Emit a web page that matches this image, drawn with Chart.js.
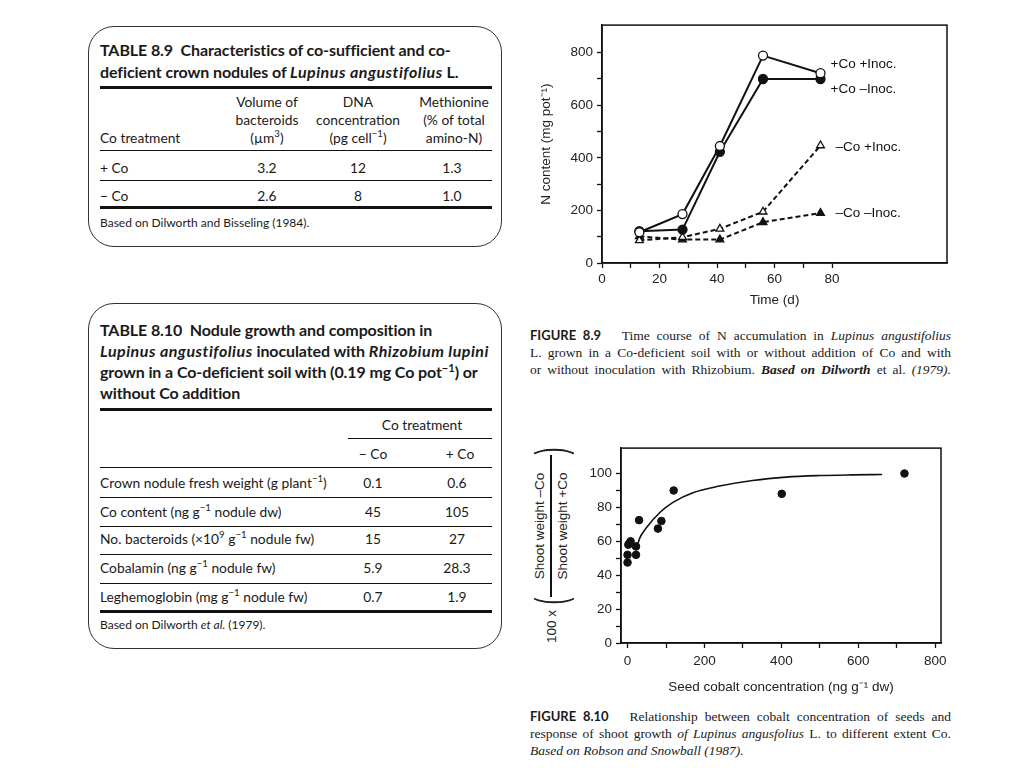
<!DOCTYPE html>
<html>
<head>
<meta charset="utf-8">
<script src="https://cdn.jsdelivr.net/npm/chart.js@4.4.0/dist/chart.umd.min.js"></script>
<style>
  html, body { margin: 0; padding: 0; background: #fff; }
  body { width: 1024px; height: 768px; position: relative; overflow: hidden; color: #1a1a1a; }
  .box { position: absolute; border: 1.5px solid #333; border-radius: 26px; }
  .tt { position: absolute; font-family: Lato, "Open Sans", sans-serif; white-space: nowrap; }
  .ttl { font-weight: bold; font-size: 16px; line-height: 21.5px; letter-spacing: -0.1px; }
  .ttl i { letter-spacing: 0.5px; }
  .cell { font-size: 13.8px; line-height: 18px; }
  .c { text-align: center; }
  .rule { position: absolute; background: #111; height: 1px; }
  .thick { height: 3px; }
  .note { font-size: 12px; line-height: 14px; }
  sup { font-size: 70%; line-height: 0; }
  .cap { position: absolute; left: 530px; width: 421px; font-family: "Liberation Serif", "DejaVu Serif", serif; font-size: 13.5px; line-height: 17px; }
  .cap div { white-space: nowrap; text-align: justify; text-align-last: justify; }
  .cap b.fig { font-family: Lato, sans-serif; font-size: 13px; }
  canvas { position: absolute; }
  .yt2 { position: absolute; left: 448px; top: 523px; width: 206px; height: 44px; transform: rotate(-90deg);
         display: flex; align-items: center; justify-content: center; white-space: nowrap;
         font-family: "Liberation Sans", Arial, sans-serif; font-size: 13.5px; color: #222; }
  .yt2 > span { flex-shrink: 0; }
  .paren { font-size: 42px; line-height: 44px; display: inline-block; transform: scaleX(0.5); font-weight: 100; margin: 0 -3px; }
  .frac { display: inline-flex; flex-direction: column; align-items: center; width: 142px; }
  .frac span { line-height: 13px; }
  .frac .num { border-bottom: 2px solid #111; width: 100%; text-align: center; padding-bottom: 4px; }
  .frac .den { padding-top: 4px; }
</style>
</head>
<body>

<!-- TABLE 8.9 -->
<div class="box" style="left:88px; top:26px; width:412px; height:219px;"></div>
<div class="tt ttl" style="left:100px; top:39px;">TABLE 8.9&nbsp; Characteristics of co-sufficient and co-<br>deficient crown nodules of <i>Lupinus angustifolius</i> L.</div>
<div class="rule thick" style="left:100px; top:86px; width:392px;"></div>
<div class="tt cell" style="left:100px; top:129px;">Co treatment</div>
<div class="tt cell c" style="left:217px; top:93px; width:100px;">Volume of<br>bacteroids<br>(µm<sup>3</sup>)</div>
<div class="tt cell c" style="left:298px; top:93px; width:120px;">DNA<br>concentration<br>(pg cell<sup>−1</sup>)</div>
<div class="tt cell c" style="left:404px; top:93px; width:100px;">Methionine<br>(% of total<br>amino-N)</div>
<div class="rule" style="left:100px; top:150px; width:392px;"></div>
<div class="tt cell" style="left:100px; top:159px;">+ Co</div>
<div class="tt cell c" style="left:217px; top:159px; width:100px;">3.2</div>
<div class="tt cell c" style="left:298px; top:159px; width:120px;">12</div>
<div class="tt cell c" style="left:402px; top:159px; width:100px;">1.3</div>
<div class="rule" style="left:100px; top:180px; width:392px;"></div>
<div class="tt cell" style="left:100px; top:187px;">− Co</div>
<div class="tt cell c" style="left:217px; top:187px; width:100px;">2.6</div>
<div class="tt cell c" style="left:298px; top:187px; width:120px;">8</div>
<div class="tt cell c" style="left:402px; top:187px; width:100px;">1.0</div>
<div class="rule thick" style="left:100px; top:206px; width:392px;"></div>
<div class="tt note" style="left:100px; top:216px;">Based on Dilworth and Bisseling (1984).</div>

<!-- TABLE 8.10 -->
<div class="box" style="left:88px; top:303px; width:412px; height:344px;"></div>
<div class="tt ttl" style="left:100px; top:319px; line-height:21px;">TABLE 8.10&nbsp; Nodule growth and composition in<br><i>Lupinus angustifolius</i> inoculated with <i>Rhizobium lupini</i><br>grown in a Co-deficient soil with (0.19 mg Co pot<sup>−1</sup>) or<br>without Co addition</div>
<div class="rule thick" style="left:100px; top:408px; width:392px;"></div>
<div class="tt cell c" style="left:357px; top:416px; width:130px;">Co treatment</div>
<div class="rule" style="left:348px; top:438px; width:144px;"></div>
<div class="tt cell c" style="left:333px; top:445px; width:80px;">− Co</div>
<div class="tt cell c" style="left:420px; top:445px; width:80px;">+ Co</div>
<div class="rule" style="left:100px; top:467px; width:392px;"></div>

<div class="tt cell" style="left:100px; top:474px;">Crown nodule fresh weight (g plant<sup>−1</sup>)</div>
<div class="tt cell c" style="left:333px; top:474px; width:80px;">0.1</div>
<div class="tt cell c" style="left:417px; top:474px; width:80px;">0.6</div>
<div class="rule" style="left:100px; top:497px; width:392px;"></div>
<div class="tt cell" style="left:100px; top:503px;">Co content (ng g<sup>−1</sup> nodule dw)</div>
<div class="tt cell c" style="left:333px; top:503px; width:80px;">45</div>
<div class="tt cell c" style="left:417px; top:503px; width:80px;">105</div>
<div class="rule" style="left:100px; top:526px; width:392px;"></div>
<div class="tt cell" style="left:100px; top:530px;">No. bacteroids (×10<sup>9</sup> g<sup>−1</sup> nodule fw)</div>
<div class="tt cell c" style="left:333px; top:530px; width:80px;">15</div>
<div class="tt cell c" style="left:417px; top:530px; width:80px;">27</div>
<div class="rule" style="left:100px; top:554px; width:392px;"></div>
<div class="tt cell" style="left:100px; top:559px;">Cobalamin (ng g<sup>−1</sup> nodule fw)</div>
<div class="tt cell c" style="left:333px; top:559px; width:80px;">5.9</div>
<div class="tt cell c" style="left:417px; top:559px; width:80px;">28.3</div>
<div class="rule" style="left:100px; top:583px; width:392px;"></div>
<div class="tt cell" style="left:100px; top:588px;">Leghemoglobin (mg g<sup>−1</sup> nodule fw)</div>
<div class="tt cell c" style="left:333px; top:588px; width:80px;">0.7</div>
<div class="tt cell c" style="left:417px; top:588px; width:80px;">1.9</div>
<div class="rule thick" style="left:100px; top:610px; width:392px;"></div>
<div class="tt note" style="left:100px; top:618px;">Based on Dilworth <i>et al.</i> (1979).</div>

<!-- charts -->
<canvas id="nChart" style="left:530px; top:13px; width:430px; height:298px;" width="430" height="298"></canvas>
<canvas id="coChart" style="left:580px; top:436px; width:375px; height:262px;" width="375" height="262"></canvas>

<div class="yt2">
  <span style="margin-right:5px;">100 x</span>
  <span class="paren">(</span>
  <span class="frac"><span class="num">Shoot weight –Co</span><span class="den">Shoot weight +Co</span></span>
  <span class="paren">)</span>
</div>

<div class="cap" style="top:327px;">
  <div><b class="fig">FIGURE 8.9</b>&nbsp;&nbsp; Time course of N accumulation in <i>Lupinus angustifolius</i></div>
  <div>L. grown in a Co-deficient soil with or without addition of Co and with</div>
  <div>or without inoculation with Rhizobium. <i><b style="font-weight:600">Based on Dilworth</b></i> et al. <i>(1979).</i></div>
</div>

<div class="cap" style="top:708px;">
  <div><b class="fig">FIGURE 8.10</b>&nbsp;&nbsp; Relationship between cobalt concentration of seeds and</div>
  <div>response of shoot growth <i>of Lupinus angusfolius</i> L. to different extent Co.</div>
  <div style="text-align:left; text-align-last:left;"><i>Based on Robson and Snowball (1987).</i></div>
</div>

<script>
// ---------------------------------------
// Figure 8.9 - N content over time
// ---------------------------------------
const days = [13, 28, 41, 56, 76];
const coInoc = [117, 186, 445, 789, 722];
const coNoInoc = [121, 127, 423, 700, 700];
const noCoInoc = [86, 98, 130, 195, 447];
const noCoNoInoc = [101, 89, 89, 155, 190];
const seriesNames = ["+Co +Inoc.", "+Co –Inoc.", "–Co +Inoc.", "–Co –Inoc."];
const timeTicks = [0, 10, 20, 30, 40, 50, 60, 70, 80];
const nTicks = [0, 100, 200, 300, 400, 500, 600, 700, 800];

// ---------------------------------------
// Figure 8.10 - seed cobalt vs shoot ratio
// ---------------------------------------
const seedCo = [0, 0, 2, 5, 8, 22, 22, 30, 79, 88, 120, 401, 720];
const shootRatio = [47.5, 52, 58, 59, 60, 52, 57, 72.5, 67.5, 72, 90, 88, 100];
const fitCo = [22, 32, 49, 84, 118, 170, 239, 325, 412, 498, 584, 662];
const fitRatio = [54.6, 62, 68, 77, 83, 88.7, 92.6, 95.9, 97.9, 98.8, 99.2, 99.4];
const seedTicks = [0, 100, 200, 300, 400, 500, 600, 700, 800];
const ratioTicks = [0, 10, 20, 30, 40, 50, 60, 70, 80, 90, 100];

Chart.defaults.font.family = "'Liberation Sans', Arial, sans-serif";
Chart.defaults.font.size = 13.5;
Chart.defaults.color = "#222";
Chart.defaults.animation = false;

// label offsets next to the last point of each series
const labelOffsets = [[10, -9], [10, 10], [15, 2], [15, 0]];

const frame = {
    id: "frame",
    afterDraw(chart) {
        const a = chart.chartArea, ctx = chart.ctx;
        ctx.save();
        ctx.strokeStyle = "#111";
        ctx.lineWidth = 1.5;
        ctx.strokeRect(a.left, a.top, a.right - a.left, a.bottom - a.top);
        ctx.restore();
    }
};

const seriesLabels = {
    id: "seriesLabels",
    afterDatasetsDraw(chart) {
        const ctx = chart.ctx;
        ctx.save();
        ctx.font = "13.5px 'Liberation Sans', Arial, sans-serif";
        ctx.fillStyle = "#111";
        ctx.textBaseline = "middle";
        chart.data.datasets.forEach((ds, i) => {
            const pts = chart.getDatasetMeta(i).data;
            const last = pts[pts.length - 1];
            ctx.fillText(ds.label, last.x + labelOffsets[i][0], last.y + labelOffsets[i][1]);
        });
        ctx.restore();
    }
};

function axis(opts) {
    return Object.assign({
        type: "linear",
        grid: { drawOnChartArea: false, drawTicks: true, tickLength: 5, tickColor: "#111", tickWidth: 1.3 },
        border: { display: true, color: "#111", width: 1.5 }
    }, opts);
}

const toXY = (xs, ys) => xs.map((x, i) => ({ x: x, y: ys[i] }));
const fixedTicks = list => s => { s.ticks = list.map(v => ({ value: v })); };

function nSeries(label, values, filled, shape, dashed) {
    return {
        label: label,
        data: toXY(days, values),
        borderColor: "#111",
        borderWidth: 2,
        borderDash: dashed ? [5, 3] : [],
        pointStyle: shape,
        pointRadius: 4.5,
        pointBackgroundColor: filled ? "#111" : "#fff",
        pointBorderColor: "#111",
        pointBorderWidth: 1.3,
        tension: 0
    };
}

new Chart(document.getElementById("nChart"), {
    type: "line",
    data: {
        datasets: [
            nSeries(seriesNames[0], coInoc, false, "circle", false),
            nSeries(seriesNames[1], coNoInoc, true, "circle", false),
            nSeries(seriesNames[2], noCoInoc, false, "triangle", true),
            nSeries(seriesNames[3], noCoNoInoc, true, "triangle", true)
        ]
    },
    options: {
        responsive: false,
        layout: { padding: { left: 0, top: 10, right: 13, bottom: 0 } },
        plugins: { legend: { display: false }, tooltip: { enabled: false } },
        scales: {
            x: axis({
                min: 0, max: 120,
                ticks: { autoSkip: false, maxRotation: 0, padding: 3,
                    callback: v => (v % 20 === 0 ? String(v) : "") },
                afterBuildTicks: fixedTicks(timeTicks),
                afterFit: s => { s.height = 48; },
                title: { display: true, text: "Time (d)", padding: { top: 0, bottom: 3 } }
            }),
            y: axis({
                min: 0, max: 905,
                ticks: { autoSkip: false, padding: 4,
                    callback: v => (v % 200 === 0 ? String(v) : "") },
                afterBuildTicks: fixedTicks(nTicks),
                afterFit: s => { s.width = 72; },
                title: { display: true, text: "N content (mg pot⁻¹)", padding: { top: 8, bottom: 0 } }
            })
        }
    },
    plugins: [frame, seriesLabels]
});

new Chart(document.getElementById("coChart"), {
    type: "scatter",
    data: {
        datasets: [
            {
                label: "observed",
                data: toXY(seedCo, shootRatio),
                pointRadius: 3.8,
                pointBackgroundColor: "#111",
                pointBorderColor: "#111"
            },
            {
                type: "line",
                label: "fit",
                data: toXY(fitCo, fitRatio),
                borderColor: "#111",
                borderWidth: 1.6,
                pointRadius: 0,
                cubicInterpolationMode: "monotone",
                fill: false
            }
        ]
    },
    options: {
        responsive: false,
        layout: { padding: { left: 0, top: 10, right: 14, bottom: 0 } },
        plugins: { legend: { display: false }, tooltip: { enabled: false } },
        scales: {
            x: axis({
                min: -17, max: 815,
                ticks: { autoSkip: false, maxRotation: 0, padding: 5,
                    callback: v => (v % 200 === 0 ? String(v) : "") },
                afterBuildTicks: fixedTicks(seedTicks),
                afterFit: s => { s.height = 55; },
                title: { display: true, text: "Seed cobalt concentration (ng g⁻¹ dw)", padding: { top: 0, bottom: 3 } }
            }),
            y: axis({
                min: 0, max: 115,
                ticks: { autoSkip: false, padding: 4,
                    callback: v => (v % 20 === 0 ? String(v) : "") },
                afterBuildTicks: fixedTicks(ratioTicks),
                afterFit: s => { s.width = 41; }
            })
        }
    },
    plugins: [frame]
});
</script>
</body>
</html>
